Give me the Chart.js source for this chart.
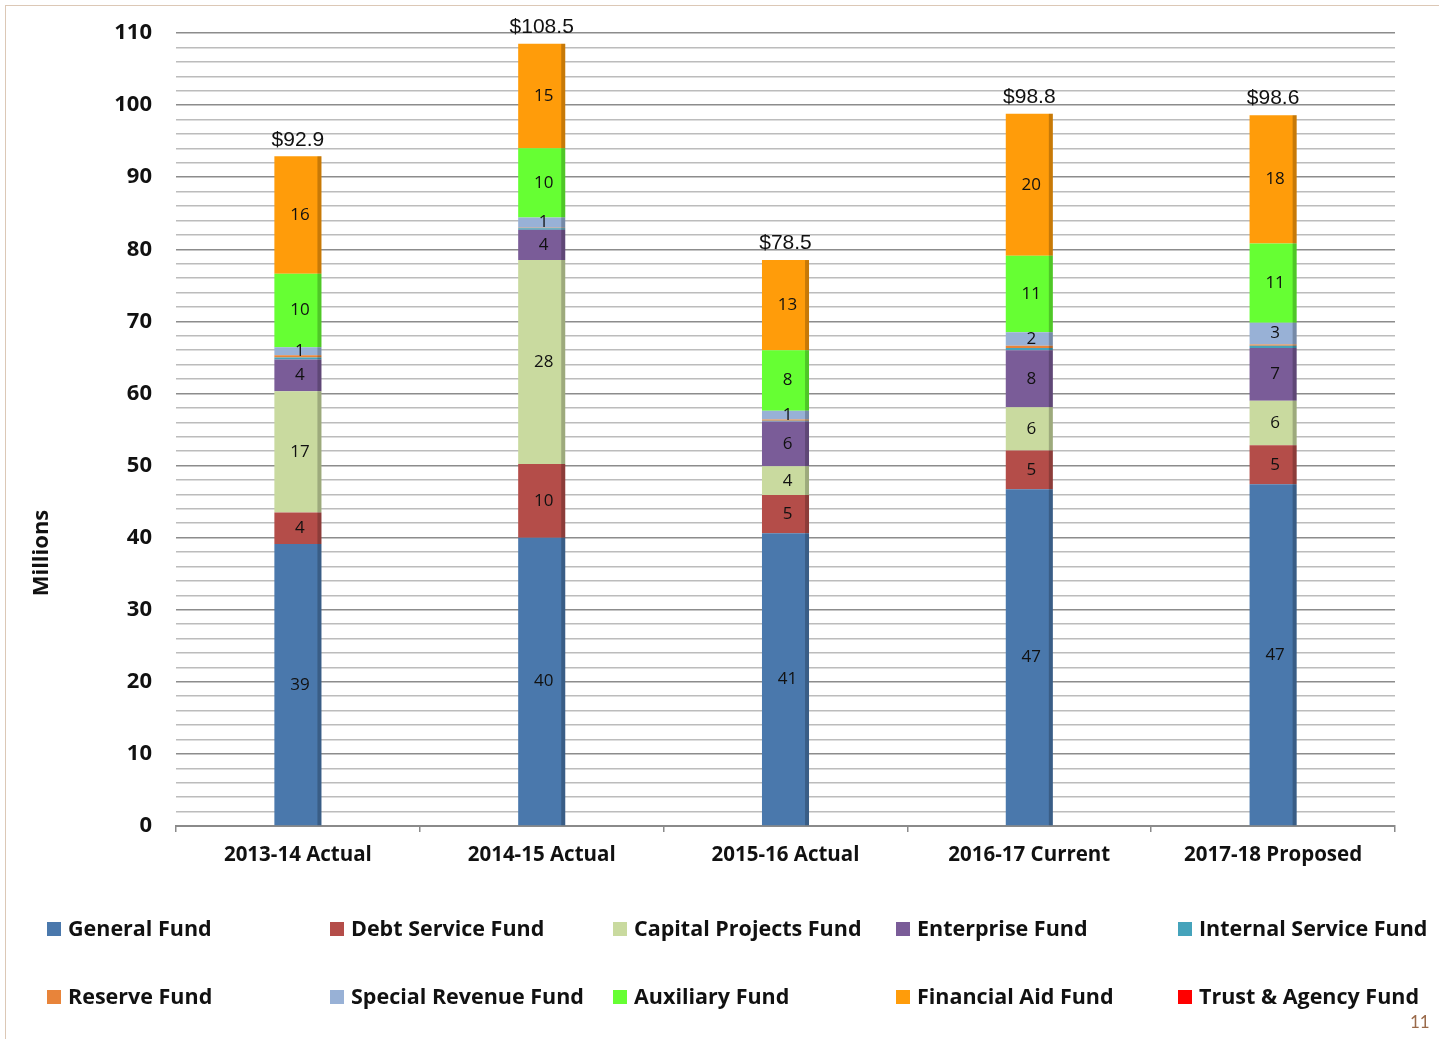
<!DOCTYPE html>
<html>
<head>
<meta charset="utf-8">
<title>Funds by year</title>
<script src="https://cdn.jsdelivr.net/npm/chart.js@4.4.1/dist/chart.umd.min.js"></script>
<style>
  body { margin: 0; background: #fff; }
  #wrap { position: relative; width: 1439px; height: 1039px; overflow: hidden; }
  #frame { position: absolute; left: 5px; top: 5px; width: 1500px; height: 1100px;
           border-left: 1px solid #dcc8b6; border-top: 1px solid #dcc8b6; }
  canvas { position: absolute; left: 0; top: 0; }
  .leg { position: absolute; font: bold 21.5px "Open Sans", sans-serif; color: #111; white-space: nowrap; line-height: 28px; }
  .leg i { display: inline-block; width: 14px; height: 14px; margin-right: 7px; vertical-align: 0px; }
  #pageno { position: absolute; left: 1410px; top: 1011px; font: 17px Lato, sans-serif; color: #9a6a4a; }
</style>
</head>
<body>
<div id="wrap">
  <div id="frame"></div>
  <canvas id="chart" width="1439" height="1039"></canvas>
  <div id="legend"></div>
  <div id="pageno">11</div>
</div>
<script>
// data (millions)
const categories = ['2013-14 Actual', '2014-15 Actual', '2015-16 Actual', '2016-17 Current', '2017-18 Proposed'];
const totals = [92.9, 108.5, 78.5, 98.8, 98.6];

const generalFund         = [39.1, 40.0, 40.6, 46.7, 47.4];
const debtServiceFund     = [4.4, 10.2, 5.3, 5.4, 5.4];
const capitalProjectsFund = [16.8, 28.3, 4.0, 6.0, 6.2];
const enterpriseFund      = [4.4, 4.2, 6.2, 7.9, 7.3];
const internalServiceFund = [0.3, 0.2, 0.1, 0.3, 0.3];
const reserveFund         = [0.3, 0.1, 0.2, 0.3, 0.2];
const specialRevenueFund  = [1.1, 1.4, 1.2, 1.9, 3.0];
const auxiliaryFund       = [10.2, 9.6, 8.4, 10.6, 11.0];
const financialAidFund    = [16.3, 14.5, 12.5, 19.7, 17.8];
const trustAgencyFund     = [0, 0, 0, 0, 0];

const fundNames = ['General Fund', 'Debt Service Fund', 'Capital Projects Fund', 'Enterprise Fund', 'Internal Service Fund',
                   'Reserve Fund', 'Special Revenue Fund', 'Auxiliary Fund', 'Financial Aid Fund', 'Trust & Agency Fund'];
const fundColors = ['#4a78ac', '#b44d49', '#c9da9f', '#7a5c98', '#45a3bb',
                    '#e8843a', '#98b1d6', '#66ff33', '#ff9c0a', '#ff0000'];
const fundValues = [generalFund, debtServiceFund, capitalProjectsFund, enterpriseFund, internalServiceFund,
                    reserveFund, specialRevenueFund, auxiliaryFund, financialAidFund, trustAgencyFund];

const yLabels = [0, 10, 20, 30, 40, 50, 60, 70, 80, 90, 100, 110];

// legend, two rows of five
const legend = document.getElementById('legend');
const legX = [47, 330, 613, 896, 1178];
const legY = [914, 982];
fundNames.forEach(function (name, i) {
  const d = document.createElement('div');
  d.className = 'leg';
  d.style.left = legX[i % 5] + 'px';
  d.style.top = legY[Math.floor(i / 5)] + 'px';
  d.innerHTML = '<i style="background:' + fundColors[i] + '"></i>';
  d.appendChild(document.createTextNode(name));
  legend.appendChild(d);
});

// labels inside segments, totals on top, dark right edge on bars
const barExtras = {
  id: 'barExtras',
  afterDatasetsDraw(chart) {
    const ctx = chart.ctx;
    ctx.save();
    chart.data.datasets.forEach(function (ds, i) {
      chart.getDatasetMeta(i).data.forEach(function (el) {
        const h = el.base - el.y;
        if (h > 0) {
          ctx.fillStyle = 'rgba(0,0,0,0.22)';
          ctx.fillRect(el.x + el.width / 2 - 4, el.y, 4, h);
        }
      });
    });
    ctx.fillStyle = '#111';
    ctx.textAlign = 'center';
    ctx.textBaseline = 'middle';
    ctx.font = '17px "Open Sans", sans-serif';
    chart.data.datasets.forEach(function (ds, i) {
      chart.getDatasetMeta(i).data.forEach(function (el, j) {
        const v = ds.data[j];
        if (v >= 0.5) ctx.fillText(Math.round(v), el.x + 2, (el.y + el.base) / 2);
      });
    });
    const y = chart.scales.y;
    const top = chart.getDatasetMeta(0).data;
    ctx.font = '21px "Liberation Sans", Arial, sans-serif';
    ctx.textBaseline = 'bottom';
    totals.forEach(function (t, j) {
      ctx.fillText('$' + t.toFixed(1), top[j].x, y.getPixelForValue(t) - 6);
    });
    ctx.font = 'bold 22px "Open Sans", sans-serif';
    ctx.translate(42, 553);
    ctx.rotate(-Math.PI / 2);
    ctx.textBaseline = 'middle';
    ctx.fillText('Millions', 0, 0);
    ctx.restore();
  }
};

new Chart(document.getElementById('chart'), {
  type: 'bar',
  data: {
    labels: categories,
    datasets: fundNames.map(function (name, i) {
      return { label: name, data: fundValues[i], backgroundColor: fundColors[i], borderWidth: 0 };
    })
  },
  options: {
    responsive: false,
    animation: false,
    devicePixelRatio: 1,
    layout: { padding: { top: 33, right: 44, left: 0, bottom: 0 } },
    categoryPercentage: 1,
    barPercentage: 0.193,
    plugins: { legend: { display: false }, tooltip: { enabled: false } },
    scales: {
      x: {
        stacked: true,
        afterFit: function (s) { s.height = 213; },
        grid: { drawOnChartArea: false, drawTicks: true, tickLength: 6, color: '#8a8a8a', lineWidth: 1.5 },
        border: { color: '#8a8a8a', width: 2 },
        ticks: { color: '#111', padding: 11, font: { family: 'Open Sans', size: 20.5, weight: 'bold' } }
      },
      y: {
        stacked: true,
        min: 0,
        max: 110,
        afterFit: function (s) { s.width = 176; },
        border: { display: false },
        grid: {
          drawTicks: true,
          tickLength: 20,
          tickColor: 'rgba(0,0,0,0)',
          lineWidth: 1.5,
          color: function (c) { return c.tick && c.tick.value % 10 === 0 ? '#8c8c8c' : '#bcbcbc'; }
        },
        ticks: {
          stepSize: 2,
          autoSkip: false,
          padding: 4,
          color: '#111',
          font: { family: 'Open Sans', size: 22, weight: 'bold' },
          callback: function (v) { return yLabels.indexOf(v) >= 0 ? v : ''; }
        }
      }
    }
  },
  plugins: [barExtras]
});
</script>
</body>
</html>
